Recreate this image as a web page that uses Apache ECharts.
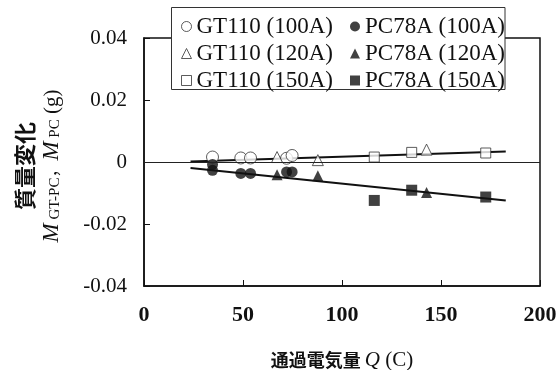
<!DOCTYPE html>
<html>
<head>
<meta charset="utf-8">
<script src="https://cdn.jsdelivr.net/npm/echarts@6/dist/echarts.min.js"></script>
<style>
  html, body { margin: 0; padding: 0; background: #fff; }
  #chart { width: 557px; height: 370px; }
</style>
</head>
<body>
<div id="chart"></div>
<script>
// 通過電気量 Q (C) と 質量変化 (g)
var gt100 = [[34.6, 0.0016], [48.9, 0.0013], [53.8, 0.0013], [72.0, 0.0012], [74.8, 0.0021]];
var gt120 = [[67.2, 0.0016], [87.8, 0.0006], [142.7, 0.0040]];
var gt150 = [[116.3, 0.0016], [135.2, 0.0031], [172.6, 0.0029]];
var pc100 = [[34.6, -0.0008], [34.6, -0.0027], [48.9, -0.0037], [53.8, -0.0037], [72.0, -0.0032], [74.8, -0.0032]];
var pc120 = [[67.2, -0.0041], [87.8, -0.0044], [142.7, -0.0098]];
var pc150 = [[116.3, -0.0124], [135.2, -0.0091], [172.6, -0.0113]];
// 近似直線
var trendGT = [[23.5, 0.0002], [182.7, 0.0034]];
var trendPC = [[23.5, -0.0019], [182.7, -0.0124]];
var xTicks = [0, 50, 100, 150, 200];
var yTicks = [-0.04, -0.02, 0, 0.02, 0.04];

var serif = '"Liberation Serif", "Times New Roman", serif';
var cjk = '"Noto Sans CJK JP", sans-serif';

var myChart = echarts.init(document.getElementById('chart'));

function scatter(name, data, symbol, size, filled) {
  return {
    name: name,
    type: 'scatter',
    data: data,
    symbol: symbol,
    symbolSize: size,
    z: filled ? 4 : 3,
    itemStyle: filled
      ? { color: '#111' }
      : { color: '#fff', borderColor: '#333', borderWidth: 1 }
  };
}

myChart.setOption({
  animation: false,
  grid: {
    left: 144, right: 17, top: 38, bottom: 84,
    outerBoundsMode: 'none',
    show: true, borderColor: '#111', borderWidth: 1.5
  },
  legend: [
    {
      left: 176, top: 10, orient: 'vertical', z: 10,
      itemWidth: 10, itemHeight: 10, itemGap: 4,
      textStyle: { fontFamily: serif, fontSize: 23, color: '#111' },
      data: [
        { name: 'GT110 (100A)', icon: 'circle', itemStyle: { color: '#fff', borderColor: '#333', borderWidth: 1 } },
        { name: 'GT110 (120A)', icon: 'triangle', itemStyle: { color: '#fff', borderColor: '#333', borderWidth: 1 } },
        { name: 'GT110 (150A)', icon: 'rect', itemStyle: { color: '#fff', borderColor: '#333', borderWidth: 1 } }
      ]
    },
    {
      left: 345, top: 10, orient: 'vertical', z: 10,
      itemWidth: 10, itemHeight: 10, itemGap: 4,
      textStyle: { fontFamily: serif, fontSize: 23, color: '#111' },
      data: [
        { name: 'PC78A (100A)', icon: 'circle' },
        { name: 'PC78A (120A)', icon: 'triangle' },
        { name: 'PC78A (150A)', icon: 'rect' }
      ]
    }
  ],
  graphic: [
    {
      type: 'rect', z: 8,
      shape: { x: 171.5, y: 7.5, width: 333.5, height: 82 },
      style: { fill: '#fff', stroke: '#333', lineWidth: 1 }
    },
    {
      type: 'text', x: 25, y: 166, rotation: Math.PI / 2,
      style: {
        text: '質量変化', fontFamily: cjk, fontWeight: 'bold', fontSize: 22,
        fill: '#111', align: 'center', verticalAlign: 'middle'
      }
    },
    {
      type: 'text', x: 52, y: 166, rotation: Math.PI / 2,
      style: {
        text: '{m|M}{s| GT-PC}{c|，}{m|M}{s| PC}{n| (g)}',
        fill: '#111', align: 'center', verticalAlign: 'middle',
        rich: {
          m: { fontFamily: serif, fontStyle: 'italic', fontSize: 23, fill: '#111' },
          s: { fontFamily: serif, fontSize: 15, fill: '#111', padding: [6, 0, 0, 0] },
          c: { fontFamily: cjk, fontSize: 17, fill: '#111' },
          n: { fontFamily: serif, fontSize: 21, fill: '#111' }
        }
      }
    }
  ],
  xAxis: {
    type: 'value', min: 0, max: 200, interval: 50,
    name: '{a|通過電気量 }{q|Q}{b| (C)}',
    nameLocation: 'middle', nameGap: 64,
    nameTextStyle: {
      rich: {
        a: { fontFamily: cjk, fontWeight: 'bold', fontSize: 18, color: '#111' },
        q: { fontFamily: serif, fontStyle: 'italic', fontSize: 21, color: '#111' },
        b: { fontFamily: serif, fontSize: 21, color: '#111' }
      }
    },
    axisLine: { show: true, onZero: false, lineStyle: { color: '#111', width: 1.5 } },
    axisTick: { show: true, inside: true, length: 6, lineStyle: { color: '#111' } },
    axisLabel: {
      margin: 18, fontFamily: serif, fontWeight: 'bold', fontSize: 22, color: '#111',
      formatter: function (v) { return xTicks.indexOf(v) >= 0 ? String(v) : ''; }
    },
    splitLine: { show: false }
  },
  yAxis: {
    type: 'value', min: -0.04, max: 0.04, interval: 0.02,
    axisLine: { show: true, onZero: false, lineStyle: { color: '#111', width: 1.5 } },
    axisTick: { show: true, inside: true, length: 6, lineStyle: { color: '#111' } },
    axisLabel: {
      margin: 17, fontFamily: serif, fontSize: 21, color: '#111',
      formatter: function (v) {
        var r = Math.round(v * 100) / 100;
        return yTicks.indexOf(r) >= 0 ? (r === 0 ? '0' : r.toFixed(2)) : '';
      }
    },
    splitLine: { show: false }
  },
  series: [
    {
      type: 'line', data: trendGT, symbol: 'none', silent: true, z: 2,
      lineStyle: { color: '#111', width: 2 },
      markLine: {
        silent: true, symbol: 'none', label: { show: false },
        lineStyle: { color: '#222', width: 1, type: 'solid' },
        data: [{ yAxis: 0 }]
      }
    },
    { type: 'line', data: trendPC, symbol: 'none', silent: true, z: 2, lineStyle: { color: '#111', width: 2 } },
    scatter('GT110 (100A)', gt100, 'circle', 12, false),
    scatter('GT110 (120A)', gt120, 'triangle', 11, false),
    scatter('GT110 (150A)', gt150, 'rect', 10, false),
    scatter('PC78A (100A)', pc100, 'circle', 11, true),
    scatter('PC78A (120A)', pc120, 'triangle', 11, true),
    scatter('PC78A (150A)', pc150, 'rect', 11, true)
  ]
});

window.addEventListener('resize', function () {
  if (myChart) { myChart.resize(); }
});
</script>
</body>
</html>
